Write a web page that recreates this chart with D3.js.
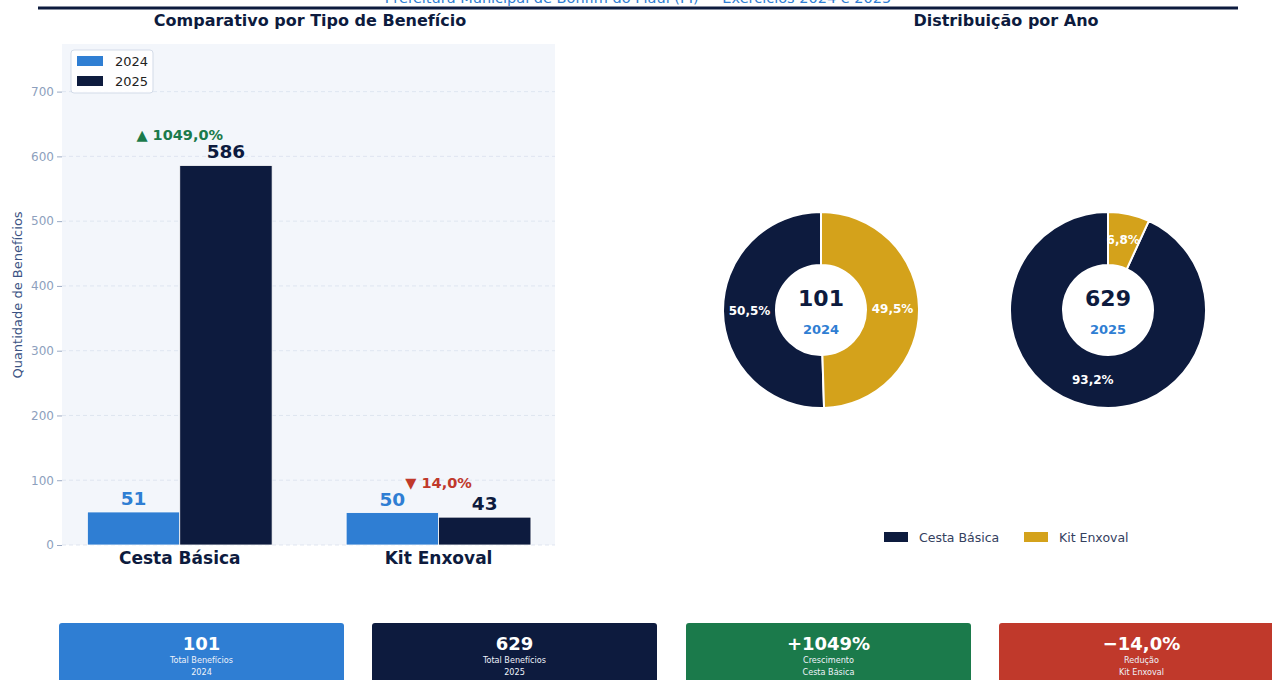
<!DOCTYPE html>
<html><head><meta charset="utf-8">
<script src="https://cdn.jsdelivr.net/npm/d3@7"></script>
<style>html,body{margin:0;padding:0;background:#fff;overflow:hidden}svg{display:block;font-family:"DejaVu Sans",sans-serif}</style>
</head><body>
<svg id="chart" width="1272" height="680"></svg>
<script>
const categories = ["Cesta Básica", "Kit Enxoval"];
const years = ["2024", "2025"];
const values2024 = [51, 50];
const values2025 = [586, 43];
const yTicks = [0, 100, 200, 300, 400, 500, 600, 700];
const subtitle = "Prefeitura Municipal de Bonfim do Piauí (PI) — Exercícios 2024 e 2025";
const cardLabels = [["Total Benefícios", "2024"], ["Total Benefícios", "2025"], ["Crescimento", "Cesta Básica"], ["Redução", "Kit Enxoval"]];

const NAVY = "#0d1b3e", BLUE = "#2f7ed3", GOLD = "#d4a21b", GREEN = "#1b7a4b", RED = "#c0392b";
const yearColors = [BLUE, NAVY];
const catColors = [NAVY, GOLD];
const fmt1 = v => v.toFixed(1).replace(".", ",");

const svg = d3.select("#chart");

// Header
svg.append("text").attr("x", 638).attr("y", 3).attr("text-anchor", "middle")
  .attr("font-size", 14.5).attr("fill", BLUE).text(subtitle);
svg.append("line").attr("x1", 38).attr("x2", 1238).attr("y1", 8).attr("y2", 8)
  .attr("stroke", NAVY).attr("stroke-width", 3);
svg.append("text").attr("x", 310).attr("y", 26).attr("text-anchor", "middle")
  .attr("font-size", 16).attr("font-weight", "bold").attr("fill", NAVY).text("Comparativo por Tipo de Benefício");
svg.append("text").attr("x", 1006).attr("y", 26).attr("text-anchor", "middle")
  .attr("font-size", 16).attr("font-weight", "bold").attr("fill", NAVY).text("Distribuição por Ano");

// ---------- Bar chart ----------
const x = d3.scaleLinear().domain([-0.455, 1.45]).range([62, 555]);
const y = d3.scaleLinear().domain([0, 773.5]).range([545, 44]);
const bw = 0.357;

const g = svg.append("g");
g.append("rect").attr("x", x(-0.455)).attr("y", y(773.5)).attr("width", x(1.45) - x(-0.455))
  .attr("height", y(0) - y(773.5)).attr("fill", "#f3f6fb");

g.selectAll("line.grid").data(yTicks).join("line").attr("class", "grid")
  .attr("x1", x(-0.455)).attr("x2", x(1.45)).attr("y1", d => y(d)).attr("y2", d => y(d))
  .attr("stroke", "#d9e1ee").attr("stroke-dasharray", "4,3").attr("stroke-width", 0.8);

const yAxis = g.append("g").attr("transform", `translate(${x(-0.455)},0)`)
  .call(d3.axisLeft(y).tickValues(yTicks).tickSize(5).tickPadding(3));
yAxis.select(".domain").remove();
yAxis.selectAll(".tick line").attr("stroke", "#9aaac4");
yAxis.selectAll(".tick text").attr("fill", "#8d9fbd").attr("font-size", 12).attr("font-family", "DejaVu Sans");

g.append("text").attr("transform", "translate(22,295) rotate(-90)").attr("text-anchor", "middle")
  .attr("font-size", 13).attr("fill", "#3b5383").text("Quantidade de Benefícios");

const series = [values2024, values2025];
series.forEach((vals, s) => {
  const off = s === 0 ? -bw / 2 : bw / 2;
  g.selectAll("rect.b" + s).data(vals).join("rect").attr("class", "b" + s)
    .attr("x", (d, i) => x(i + off - bw / 2)).attr("width", x(bw) - x(0))
    .attr("y", d => y(d)).attr("height", d => y(0) - y(d))
    .attr("fill", yearColors[s]).attr("stroke", "#ffffff").attr("stroke-width", 0.8);
  g.selectAll("text.v" + s).data(vals).join("text").attr("class", "v" + s)
    .attr("x", (d, i) => x(i + off)).attr("y", d => y(d) - 7).attr("text-anchor", "middle")
    .attr("font-size", 18.5).attr("font-weight", "bold").attr("fill", yearColors[s]).text(d => d);
});

categories.forEach((c, i) => {
  const a = values2024[i], b = values2025[i];
  const pct = (b - a) / a * 100;
  const up = pct >= 0;
  g.append("text").attr("x", x(i)).attr("y", y(Math.max(a, b)) - 25).attr("text-anchor", "middle")
    .attr("font-size", 14.5).attr("font-weight", "bold").attr("fill", up ? GREEN : RED)
    .text((up ? "▲ " : "▼ ") + fmt1(Math.abs(pct)) + "%");
  g.append("text").attr("x", x(i)).attr("y", 564).attr("text-anchor", "middle")
    .attr("font-size", 17).attr("font-weight", "bold").attr("fill", NAVY).text(c);
});

// legend
const lg = g.append("g");
lg.append("rect").attr("x", 71).attr("y", 50).attr("width", 82).attr("height", 43).attr("rx", 3)
  .attr("fill", "#ffffff").attr("fill-opacity", 0.9).attr("stroke", "#d3dbe8");
years.forEach((yr, i) => {
  lg.append("rect").attr("x", 77).attr("y", 56 + i * 20).attr("width", 26).attr("height", 10).attr("fill", yearColors[i]);
  lg.append("text").attr("x", 115).attr("y", 66 + i * 20).attr("font-size", 13).attr("fill", "#222").text(yr);
});

// ---------- Donuts ----------
const pie = d3.pie().sort(null).startAngle(0).endAngle(-2 * Math.PI);
const arc = d3.arc().innerRadius(45).outerRadius(98);
const centers = [821, 1108];
years.forEach((yr, k) => {
  const vals = categories.map((c, i) => series[k][i]);
  const total = d3.sum(vals);
  const dg = svg.append("g").attr("transform", `translate(${centers[k]},310)`);
  const arcs = pie(vals);
  dg.selectAll("path").data(arcs).join("path").attr("d", arc)
    .attr("fill", (d, i) => catColors[i]).attr("stroke", "#fff").attr("stroke-width", 2);
  dg.selectAll("text.p").data(arcs).join("text").attr("class", "p")
    .attr("transform", d => `translate(${arc.centroid(d)})`).attr("text-anchor", "middle").attr("dy", "0.35em")
    .attr("font-size", 12).attr("font-weight", "bold").attr("fill", "#fff")
    .text(d => fmt1(d.data / total * 100) + "%");
  dg.append("text").attr("y", -4).attr("text-anchor", "middle").attr("font-size", 22)
    .attr("font-weight", "bold").attr("fill", NAVY).text(total);
  dg.append("text").attr("y", 24).attr("text-anchor", "middle").attr("font-size", 13)
    .attr("font-weight", "bold").attr("fill", BLUE).text(yr);
});
const dl = svg.append("g");
const legX = [884, 1024];
categories.forEach((c, i) => {
  dl.append("rect").attr("x", legX[i]).attr("y", 532).attr("width", 24).attr("height", 10).attr("fill", catColors[i]);
  dl.append("text").attr("x", legX[i] + 35).attr("y", 542).attr("font-size", 12.5).attr("fill", "#34405e").text(c);
});

// ---------- Cards ----------
const tot24 = d3.sum(values2024), tot25 = d3.sum(values2025);
const g0 = (values2025[0] - values2024[0]) / values2024[0] * 100;
const g1 = (values2025[1] - values2024[1]) / values2024[1] * 100;
const cardValues = [String(tot24), String(tot25), "+" + Math.round(g0) + "%", "\u2212" + fmt1(Math.abs(g1)) + "%"];
const cardColors = [BLUE, NAVY, GREEN, RED];
const cardX = [59, 372, 686, 999];
cardValues.forEach((v, i) => {
  const cg = svg.append("g").attr("transform", `translate(${cardX[i]},623)`);
  cg.append("rect").attr("width", 285).attr("height", 70).attr("rx", 3).attr("fill", cardColors[i]);
  cg.append("text").attr("x", 142.5).attr("y", 26.5).attr("text-anchor", "middle").attr("font-size", 18)
    .attr("font-weight", "bold").attr("fill", "#fff").text(v);
  cardLabels[i].forEach((t, j) => {
    cg.append("text").attr("x", 142.5).attr("y", 40 + j * 12).attr("text-anchor", "middle")
      .attr("font-size", 9).attr("font-family", "DejaVu Sans Condensed, DejaVu Sans").attr("fill", "#eef2fa").text(t);
  });
});
</script>
</body></html>
